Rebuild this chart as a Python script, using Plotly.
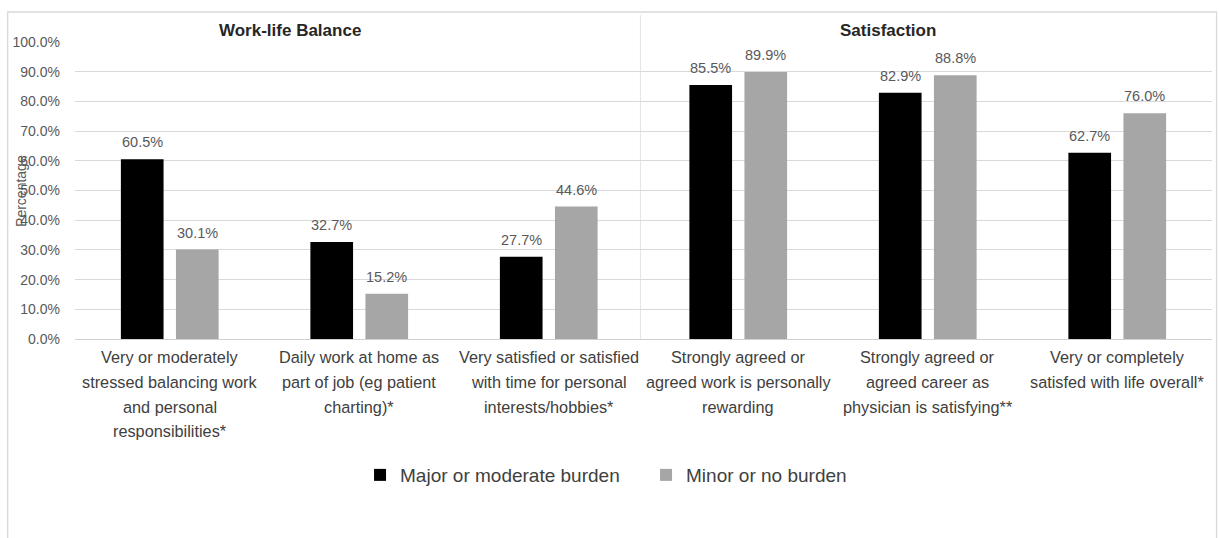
import plotly.graph_objects as go

# ---- data ----
categories = ["C1", "C2", "C3", "C4", "C5", "C6"]
category_lines = [
    ["Very or moderately", "stressed balancing work", "and personal", "responsibilities*"],
    ["Daily work at home as", "part of job (eg patient", "charting)*"],
    ["Very satisfied or satisfied", "with time for personal", "interests/hobbies*"],
    ["Strongly agreed or", "agreed work is personally", "rewarding"],
    ["Strongly agreed or", "agreed career as", "physician is satisfying**"],
    ["Very or completely", "satisfed with life overall*"],
]
major_burden = [60.5, 32.7, 27.7, 85.5, 82.9, 62.7]
minor_burden = [30.1, 15.2, 44.6, 89.9, 88.8, 76.0]
series_names = ["Major or moderate burden", "Minor or no burden"]
section_titles = ["Work-life Balance", "Satisfaction"]
y_ticks = [0, 10, 20, 30, 40, 50, 60, 70, 80, 90, 100]

FONT = "Liberation Sans, Arial, sans-serif"
GRID = "#d9d9d9"
LABEL_GREY = "#595959"
TEXT_DARK = "#404040"

fig = go.Figure()
fig.add_trace(go.Bar(x=categories, y=major_burden, name=series_names[0],
                     marker=dict(color="#000000", line=dict(width=0))))
fig.add_trace(go.Bar(x=categories, y=minor_burden, name=series_names[1],
                     marker=dict(color="#a6a6a6", line=dict(width=0))))

annotations = []
# data labels
for vals, shift in ((major_burden, -27.6), (minor_burden, 27.6)):
    for c, v in zip(categories, vals):
        annotations.append(dict(x=c, y=v, xref="x", yref="y", text=f"{v:.1f}%",
                                showarrow=False, xshift=shift, xanchor="center",
                                yanchor="bottom", yshift=7,
                                font=dict(family=FONT, size=14.5, color=LABEL_GREY)))
# category labels (multi-line, Excel-like spacing)
for c, lines in zip(categories, category_lines):
    for i, line in enumerate(lines):
        annotations.append(dict(x=c, y=0, xref="x", yref="y", text=line, showarrow=False,
                                xanchor="center", yanchor="middle", yshift=-(18 + 24.8 * i),
                                font=dict(family=FONT, size=16.3, color=TEXT_DARK)))
# section titles
for t, px in zip(section_titles, (0.1893, 0.7146)):
    annotations.append(dict(x=px, y=1, xref="paper", yref="paper", text=f"<b>{t}</b>",
                            showarrow=False, xanchor="center", yanchor="middle", yshift=12,
                            font=dict(family=FONT, size=17, color="#262626")))
# y axis title
annotations.append(dict(x=-0.048, y=0.5, xref="paper", yref="paper", text="Percentage",
                        textangle=-90, showarrow=False, xanchor="center", yanchor="middle",
                        font=dict(family=FONT, size=14, color=LABEL_GREY)))

shapes = [
    # outer frame
    dict(type="rect", xref="paper", yref="paper", x0=-0.0592, x1=1.004, y0=-0.72, y1=1.101,
         line=dict(color="#d9d9d9", width=1.3), layer="below"),
    # section divider
    dict(type="line", xref="paper", yref="paper", x0=0.4973, x1=0.4973, y0=0, y1=1.09,
         line=dict(color="#e3e3e3", width=1), layer="below"),
]

fig.update_layout(
    width=1219, height=538,
    margin=dict(l=75, r=7, t=42, b=199),
    paper_bgcolor="white", plot_bgcolor="white",
    barmode="group", bargap=0.419, bargroupgap=0.225,
    font=dict(family=FONT, color=LABEL_GREY),
    showlegend=True,
    legend=dict(orientation="h", x=0.2507, xanchor="left", y=-0.458, yanchor="middle",
                font=dict(family=FONT, size=19, color=TEXT_DARK), itemwidth=30,
                entrywidth=241, entrywidthmode="pixels", traceorder="normal"),
    annotations=annotations,
    shapes=shapes,
)
fig.update_xaxes(showticklabels=False, showgrid=False, zeroline=False,
                 showline=True, linecolor="#d0d0d0", linewidth=1.3, ticks="")
fig.update_yaxes(range=[0, 100], tickvals=y_ticks, ticktext=[f"{v:.1f}%" for v in y_ticks],
                 showgrid=True, gridcolor=GRID, gridwidth=1.3, zeroline=False,
                 showline=False, ticks="", ticklabelstandoff=14,
                 tickfont=dict(family=FONT, size=14, color=LABEL_GREY))

fig.write_html("out.html")
